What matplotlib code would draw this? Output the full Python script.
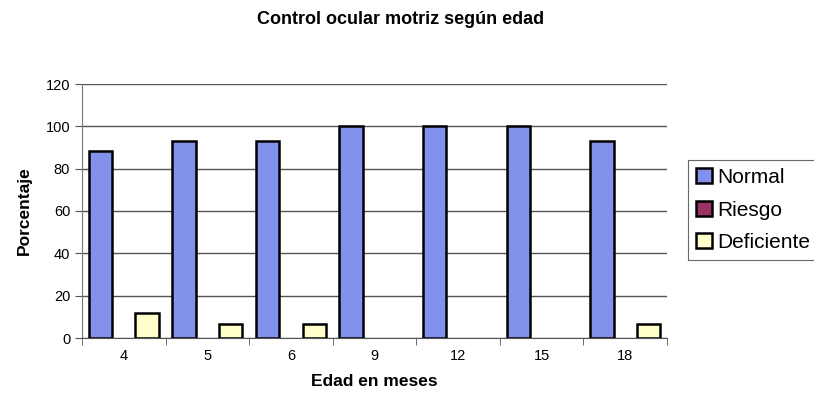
import numpy as np
import matplotlib.pyplot as plt

plt.rcParams['font.family'] = ['Liberation Sans', 'DejaVu Sans']

# Datos
edades = ['4', '5', '6', '9', '12', '15', '18']
normal = [88.2, 93.3, 93.3, 100, 100, 100, 93.3]
riesgo = [0, 0, 0, 0, 0, 0, 0]
deficiente = [11.8, 6.7, 6.7, 0, 0, 0, 6.7]

series = [('Normal', normal, '#8291EC'),
          ('Riesgo', riesgo, '#993366'),
          ('Deficiente', deficiente, '#FFFFCC')]

fig = plt.figure(figsize=(8.14, 4.04), dpi=100)
ax = fig.add_axes([82 / 814, 1 - 338 / 404, (667 - 82) / 814, (338 - 84) / 404])

x = np.arange(len(edades))
w = 0.28
for i, (nombre, vals, color) in enumerate(series):
    barras = ax.bar(x + (i - 1) * w, vals, w, color=color, edgecolor='black',
                    linewidth=1.8, label=nombre, zorder=3)
    for b, v in zip(barras, vals):
        if v == 0:
            b.set_visible(False)

ax.set_xlim(-0.5, len(edades) - 0.5)
ax.set_ylim(0, 120)
ax.set_yticks(range(0, 121, 20))
ax.set_xticks(x)
ax.set_xticklabels(edades, fontsize=10.5)
ax.set_xticks(np.arange(-0.5, len(edades)), minor=True)
ax.tick_params(axis='x', which='major', length=0, pad=8)
ax.tick_params(axis='x', which='minor', length=5, color='#555555')
ax.tick_params(axis='y', labelsize=10.5, length=5, color='#555555')
ax.grid(axis='y', color='#555555', linewidth=1, zorder=0)

for s in ['top', 'right']:
    ax.spines[s].set_visible(False)
ax.spines['left'].set_color('#777777')
ax.spines['bottom'].set_color('#555555')

ax.set_ylabel('Porcentaje', fontsize=12.5, fontweight='bold', labelpad=10)
ax.set_xlabel('Edad en meses', fontsize=12.5, fontweight='bold', labelpad=8)
fig.text(0.492, 0.952, 'Control ocular motriz según edad', fontsize=13,
         fontweight='bold', ha='center', va='center')

leg = fig.legend(loc='center left', bbox_to_anchor=(688 / 814, 1 - 210 / 404),
                 fontsize=15, frameon=True, fancybox=False, handlelength=0.75,
                 handleheight=0.75, handletextpad=0.25, borderpad=0.4,
                 labelspacing=0.65, borderaxespad=0)
leg.get_frame().set_edgecolor('#444444')
leg.get_frame().set_linewidth(0.8)
for h in leg.legend_handles:
    h.set_visible(True)
    h.set_linewidth(1.8)

plt.savefig('out.png', dpi=100)
plt.close()
